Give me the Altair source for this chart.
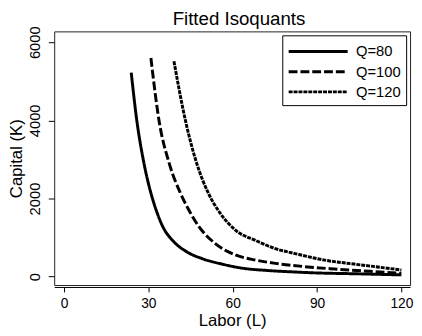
import altair as alt
import pandas as pd

L_q80 = [23.9, 25.9, 28.3, 30.9, 32.7, 35.0, 39.1, 43.7, 49.0, 56.6, 63.6, 72.0, 82.0, 90.0, 103.0, 120.0]
K_q80 = [5220, 3990, 2950, 2140, 1720, 1300, 890, 635, 465, 315, 215, 160, 120, 95, 75, 45]

L_q100 = [30.9, 33.8, 37.5, 41.4, 44.3, 47.8, 53.1, 61.2, 68.2, 75.2, 85.7, 96.2, 110.2, 120.0]
K_q100 = [5597, 3990, 2880, 2140, 1720, 1300, 886, 550, 423, 340, 256, 196, 130, 88]

L_q120 = [39.1, 43.2, 47.2, 51.3, 55.4, 61.2, 68.2, 75.2, 82.2, 92.7, 103.2, 112.6, 120.0]
K_q120 = [5514, 3990, 2900, 2143, 1640, 1177, 926, 717, 591, 423, 322, 239, 171]

series = ["Q=80", "Q=100", "Q=120"]
dashes = [[1, 0], [9, 3], [4, 1]]

rows = []
for name, Ls, Ks in zip(series, [L_q80, L_q100, L_q120], [K_q80, K_q100, K_q120]):
    for i, (l, k) in enumerate(zip(Ls, Ks)):
        rows.append({"L": l, "K": k, "Q": name, "order": i})
df = pd.DataFrame(rows)

FONT = "Liberation Sans"

chart = alt.Chart(df).mark_line(
    stroke="black", strokeWidth=3, interpolate="monotone", strokeCap="butt"
).encode(
    x=alt.X("L:Q", scale=alt.Scale(domain=[-3.5, 123.1], nice=False, zero=False),
            axis=alt.Axis(title="Labor (L)", values=[0, 30, 60, 90, 120], grid=False,
                          offset=2, tickSize=5, labelPadding=5, labelFontSize=14,
                          titleFontSize=17, titleY=39, titleBaseline="alphabetic",
                          domainColor="black",
                          tickColor="black", labelColor="black", titleColor="black",
                          labelFont=FONT, titleFont=FONT, titleFontWeight="normal")),
    y=alt.Y("K:Q", scale=alt.Scale(domain=[-214, 6277], nice=False, zero=False),
            axis=alt.Axis(title="Capital (K)", values=[0, 2000, 4000, 6000], format="d",
                          grid=False, domain=False, tickSize=6, labelAngle=270,
                          labelAlign="center", labelBaseline="bottom", labelPadding=6,
                          labelFontSize=15, titleFontSize=17, titleX=-38, titleY=129,
                          titleAngle=270, titleAlign="center", titleBaseline="middle",
                          tickColor="black", labelColor="black", titleColor="black",
                          labelFont=FONT, titleFont=FONT, titleFontWeight="normal")),
    strokeDash=alt.StrokeDash("Q:N", scale=alt.Scale(domain=series, range=dashes),
                              legend=alt.Legend(title=None, orient="none", legendX=232, legendY=4,
                                                symbolType="M-1,0L5,0", symbolSize=400,
                                                symbolStrokeWidth=3, symbolStrokeColor="black",
                                                symbolFillColor="transparent",
                                                labelFontSize=15, labelFont=FONT, labelColor="black",
                                                labelOffset=47, rowPadding=0.5, padding=5,
                                                strokeColor="black", fillColor="white")),
    order="order:Q",
).properties(
    width=362, height=258,
    title=alt.TitleParams("Fitted Isoquants", fontSize=19, font=FONT, fontWeight="normal",
                          color="black", anchor="middle", offset=3, dx=7, dy=6, frame="group"),
    autosize=alt.AutoSizeParams(type="none"),
    padding={"left": 47, "top": 21, "right": 4, "bottom": 46},
).configure_view(stroke="#222", strokeWidth=1)

chart.save("out.html", embed_options={"renderer": "svg", "actions": False})
